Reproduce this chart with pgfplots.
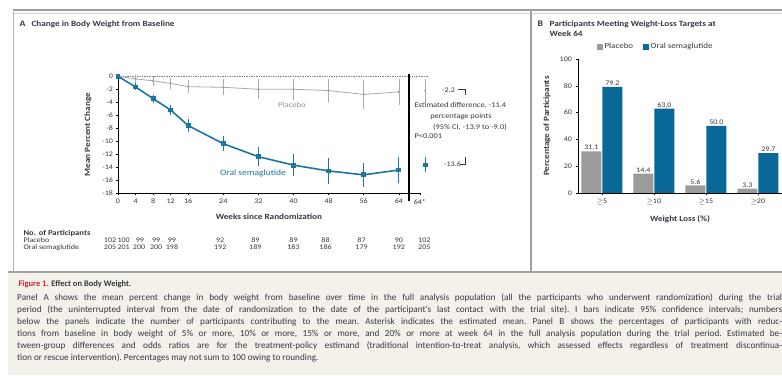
\documentclass[border=0pt]{standalone}
\usepackage{fontspec}
\setmainfont{Carlito}[FakeStretch=1.15]
\newfontfamily\capfont{Carlito}
\usepackage{pgfplots}
\usepackage{pgfplotstable}
\pgfplotsset{compat=1.18}
\definecolor{semablue}{RGB}{28,118,160}
\definecolor{barblue}{RGB}{10,104,152}
\definecolor{plgray}{RGB}{170,170,170}
\definecolor{bargray}{RGB}{155,155,155}
\definecolor{capbg}{RGB}{244,241,234}
\definecolor{figred}{RGB}{205,35,45}
\definecolor{txt}{RGB}{55,55,65}
\definecolor{framegray}{RGB}{160,160,160}

\pgfplotstableread{
w m e
0 0 0
4 -0.4 0.35
8 -0.7 0.5
12 -1.1 0.6
16 -1.6 0.65
24 -1.7 0.95
32 -2.0 1.25
40 -2.0 1.3
48 -2.2 1.5
56 -2.8 1.95
64 -2.4 1.7
}\placebo
\pgfplotstableread{
w m e
0 0 0
4 -1.65 0.2
8 -3.45 0.3
12 -5.2 0.45
16 -7.6 0.65
24 -10.4 0.85
32 -12.4 1.1
40 -13.7 1.3
48 -14.6 1.6
56 -15.2 1.5
64 -14.45 1.6
}\sema
\pgfplotstableread{
x y lab
-1.8 -25.33 102
1.3 -25.33 100
5.0 -25.33 99
8.7 -25.33 99
12.3 -25.33 99
23.3 -25.33 92
31.3 -25.33 89
40.0 -25.33 89
47.3 -25.33 88
55.5 -25.33 87
64.0 -25.33 90
69.8 -25.33 102
}\nplacebo
\pgfplotstableread{
x y lab
-1.8 -26.4 205
1.3 -26.4 201
4.8 -26.4 200
8.7 -26.4 200
12.3 -26.4 198
23.3 -26.4 192
31.3 -26.4 189
40.0 -26.4 183
47.3 -26.4 186
55.5 -26.4 179
64.0 -26.4 192
69.8 -26.4 205
}\nsema

\begin{document}
\begin{tikzpicture}[x=1pt,y=1pt]
\useasboundingbox (0,0) rectangle (782,375);
\clip (0,0) rectangle (782,375);
\fill[white] (0,0) rectangle (782,375);
\fill[capbg] (8,0) rectangle (782,101.5);
\draw[line width=2pt, framegray] (8,102.5) -- (782,102.5);
\draw[line width=2pt, gray!75] (13,364.5) -- (782,364.5);
\draw[line width=0.6pt, gray!35] (13,362) -- (782,362);
\draw[line width=0.8pt, gray!60] (13.5,365) -- (13.5,103);
\draw[line width=1.2pt, framegray] (531,364) -- (531,103);

% ---------- Panel A ----------
\begin{axis}[
  at={(118pt,182pt)}, anchor=south west, scale only axis,
  width=301.9pt, height=116.7pt,
  xmin=0, xmax=68.8, ymin=-18, ymax=0,
  axis lines=left, axis line style={-, line width=0.6pt, black},
  xtick={0,4,8,12,16,24,32,40,48,56,64,68.8},
  xticklabels={0,4,8,12,16,24,32,40,48,56,64,64*},
  ytick={-18,-16,...,0},
  tick align=outside, major tick length=2.5pt,
  tick style={black, line width=0.5pt},
  ticklabel style={font=\fontsize{7}{8}\selectfont, text=txt},
  yticklabel style={xshift=1pt},
  /pgf/number format/assume math mode=true,
  clip=false,
  xlabel={Weeks since Randomization},
  ylabel={Mean Percent Change},
  xlabel style={at={(axis description cs:0.5,-0.205)}, anchor=center, font=\bfseries\fontsize{8}{9}\selectfont, text=txt},
  ylabel style={at={(axis description cs:-0.099,0.5)}, anchor=center, font=\bfseries\fontsize{8}{9}\selectfont, text=txt},
]
\draw[densely dotted, line width=0.7pt, gray] (axis cs:0,0) -- (axis cs:70.8,0);
\draw[black, line width=1.2pt] (axis cs:66.3,0.3) -- (axis cs:66.3,-19.3);
\addplot[color=plgray, line width=0.8pt, mark=*, mark size=0.9pt,
  error bars/.cd, y dir=both, y explicit,
  error bar style={line width=0.6pt},
  error mark options={mark size=2pt, line width=0.6pt}]
  table[x=w, y=m, y error=e] {\placebo};
\addplot[color=semablue, line width=1.6pt, mark=square*, mark size=1.6pt,
  error bars/.cd, y dir=both, y explicit,
  error bar style={line width=0.7pt},
  error mark options={mark size=2.2pt, line width=0.7pt}]
  table[x=w, y=m, y error=e] {\sema};
\addplot[color=plgray, only marks, mark=*, mark size=0.9pt,
  error bars/.cd, y dir=both, y explicit,
  error bar style={line width=0.6pt},
  error mark options={mark size=2pt, line width=0.6pt}]
  coordinates {(70,-2.2) +- (0,1.45)};
\addplot[color=semablue, only marks, mark=square*, mark size=1.6pt,
  error bars/.cd, y dir=both, y explicit,
  error bar style={line width=0.7pt},
  error mark options={mark size=2.2pt, line width=0.7pt}]
  coordinates {(70,-13.6) +- (0,0.85)};
\addplot[draw=none, nodes near coords, point meta=explicit symbolic,
  nodes near coords style={anchor=center, font=\fontsize{7}{7}\selectfont, text=txt}]
  table[x=x, y=y, meta=lab] {\nplacebo};
\addplot[draw=none, nodes near coords, point meta=explicit symbolic,
  nodes near coords style={anchor=center, font=\fontsize{7}{7}\selectfont, text=txt}]
  table[x=x, y=y, meta=lab] {\nsema};
\end{axis}

% Panel A text
\node[anchor=west, font=\bfseries\fontsize{8.5}{10}\selectfont, text=txt] at (16,351) {A};
\node[anchor=west, font=\bfseries\fontsize{8}{10}\selectfont, text=txt] at (28,351) {Change in Body Weight from Baseline};
\node[font=\fontsize{7.5}{8}\selectfont, text=gray!85] at (292,270) {Placebo};
\node[font=\fontsize{8.3}{9}\selectfont, text=semablue] at (253,202) {Oral semaglutide};
\node[anchor=west, inner sep=0pt, font=\fontsize{7}{8}\selectfont, text=txt] at (442,284.5) {-2.2};
\draw[line width=0.7pt, txt] (458,285.5) -- (465,285.5) -- (465,280);
\node[anchor=west, inner sep=0pt, font=\fontsize{7}{8}\selectfont, text=txt] at (444,210.5) {-13.6};
\draw[line width=0.7pt, txt] (460,211) -- (465,211) -- (465,218);
\node[anchor=west, font=\fontsize{7.3}{8}\selectfont, text=txt] at (411,270) {Estimated difference, -11.4};
\node[font=\fontsize{7.3}{8}\selectfont, text=txt] at (461,258) {percentage points};
\node[font=\fontsize{7.3}{8}\selectfont, text=txt] at (470,248) {(95\% CI, -13.9 to -9.0)};
\node[anchor=west, font=\fontsize{7.3}{8}\selectfont, text=txt] at (411,239) {P<0.001};
\node[anchor=west, font=\bfseries\fontsize{7.5}{8}\selectfont, text=txt] at (20,142) {No. of Participants};
\node[anchor=west, font=\fontsize{7}{7}\selectfont, text=txt] at (20,134.5) {Placebo};
\node[anchor=west, font=\fontsize{7}{7}\selectfont, text=txt] at (20,127.6) {Oral semaglutide};

% ---------- Panel B ----------
\begin{axis}[
  at={(578pt,182pt)}, anchor=south west, scale only axis,
  width=211.1pt, height=134pt,
  xmin=-0.46, xmax=3.6, ymin=0, ymax=100,
  axis lines=left, axis line style={-, line width=0.6pt, black},
  ybar=1pt, bar width=20pt,
  xtick={0,1,2,3},
  xticklabels={$\geq$5,$\geq$10,$\geq$15,$\geq$20},
  ytick={0,20,...,100},
  tick align=outside, major tick length=2.5pt,
  tick style={black, line width=0.5pt},
  ticklabel style={font=\fontsize{7}{8}\selectfont, text=txt},
  /pgf/number format/assume math mode=true,
  clip=false,
  xlabel={Weight Loss (\%)},
  ylabel={Percentage of Participants},
  xlabel style={at={(axis description cs:0.483,-0.194)}, anchor=center, font=\bfseries\fontsize{8}{9}\selectfont, text=txt},
  ylabel style={at={(axis description cs:-0.147,0.5)}, anchor=center, font=\bfseries\fontsize{8}{9}\selectfont, text=txt},
  nodes near coords={\pgfmathprintnumber[fixed,fixed zerofill,precision=1]{\pgfplotspointmeta}},
  nodes near coords style={font=\fontsize{7}{8}\selectfont, text=txt, inner sep=1.2pt},
  legend columns=2,
  legend style={at={(axis description cs:0.075,1.09)}, anchor=west, draw=none, fill=none,
    font=\fontsize{7.8}{8}\selectfont, text=txt,
    /tikz/every even column/.append style={column sep=8pt}},
]
\addplot[fill=bargray, draw=none,
  legend image code/.code={\fill[bargray] (0pt,-2.6pt) rectangle (5.5pt,3pt);}]
  coordinates {(0,31.1) (1,14.4) (2,5.6) (3,3.3)};
\addplot[fill=barblue, draw=none,
  legend image code/.code={\fill[barblue] (0pt,-2.6pt) rectangle (5.5pt,3pt);}]
  coordinates {(0,79.2) (1,63.0) (2,50.0) (3,29.7)};
\legend{Placebo, Oral semaglutide}
\end{axis}

\node[anchor=west, font=\bfseries\fontsize{8.5}{10}\selectfont, text=txt] at (534,351) {B};
\node[anchor=west, font=\bfseries\fontsize{8}{10}\selectfont, text=txt] at (546,351) {Participants Meeting Weight-Loss Targets at};
\node[anchor=west, font=\bfseries\fontsize{8}{10}\selectfont, text=txt] at (546,341) {Week 64};

% ---------- Caption ----------
\node[anchor=west, font=\capfont\bfseries\fontsize{8.5}{10}\selectfont] at (15,90.5) {\textcolor{figred}{Figure 1.} \textcolor{txt}{Effect on Body Weight.}};
\node[anchor=north west, inner sep=0pt, text width=765pt, align=justify, text=txt,
  font=\capfont\fontsize{9.2}{12}\selectfont\frenchspacing] at (17,81.5) {\frenchspacing Panel A shows the mean percent change in body weight from baseline over time in the full analysis population (all the participants who underwent randomization) during the trial\linebreak
period (the uninterrupted interval from the date of randomization to the date of the participant's last contact with the trial site). I bars indicate 95\% confidence intervals; numbers\linebreak
below the panels indicate the number of participants contributing to the mean. Asterisk indicates the estimated mean. Panel B shows the percentages of participants with reduc-\linebreak
tions from baseline in body weight of 5\% or more, 10\% or more, 15\% or more, and 20\% or more at week 64 in the full analysis population during the trial period. Estimated be-\linebreak
tween-group differences and odds ratios are for the treatment-policy estimand (traditional intention-to-treat analysis, which assessed effects regardless of treatment discontinua-\linebreak
tion or rescue intervention). Percentages may not sum to 100 owing to rounding.};
\end{tikzpicture}
\end{document}
